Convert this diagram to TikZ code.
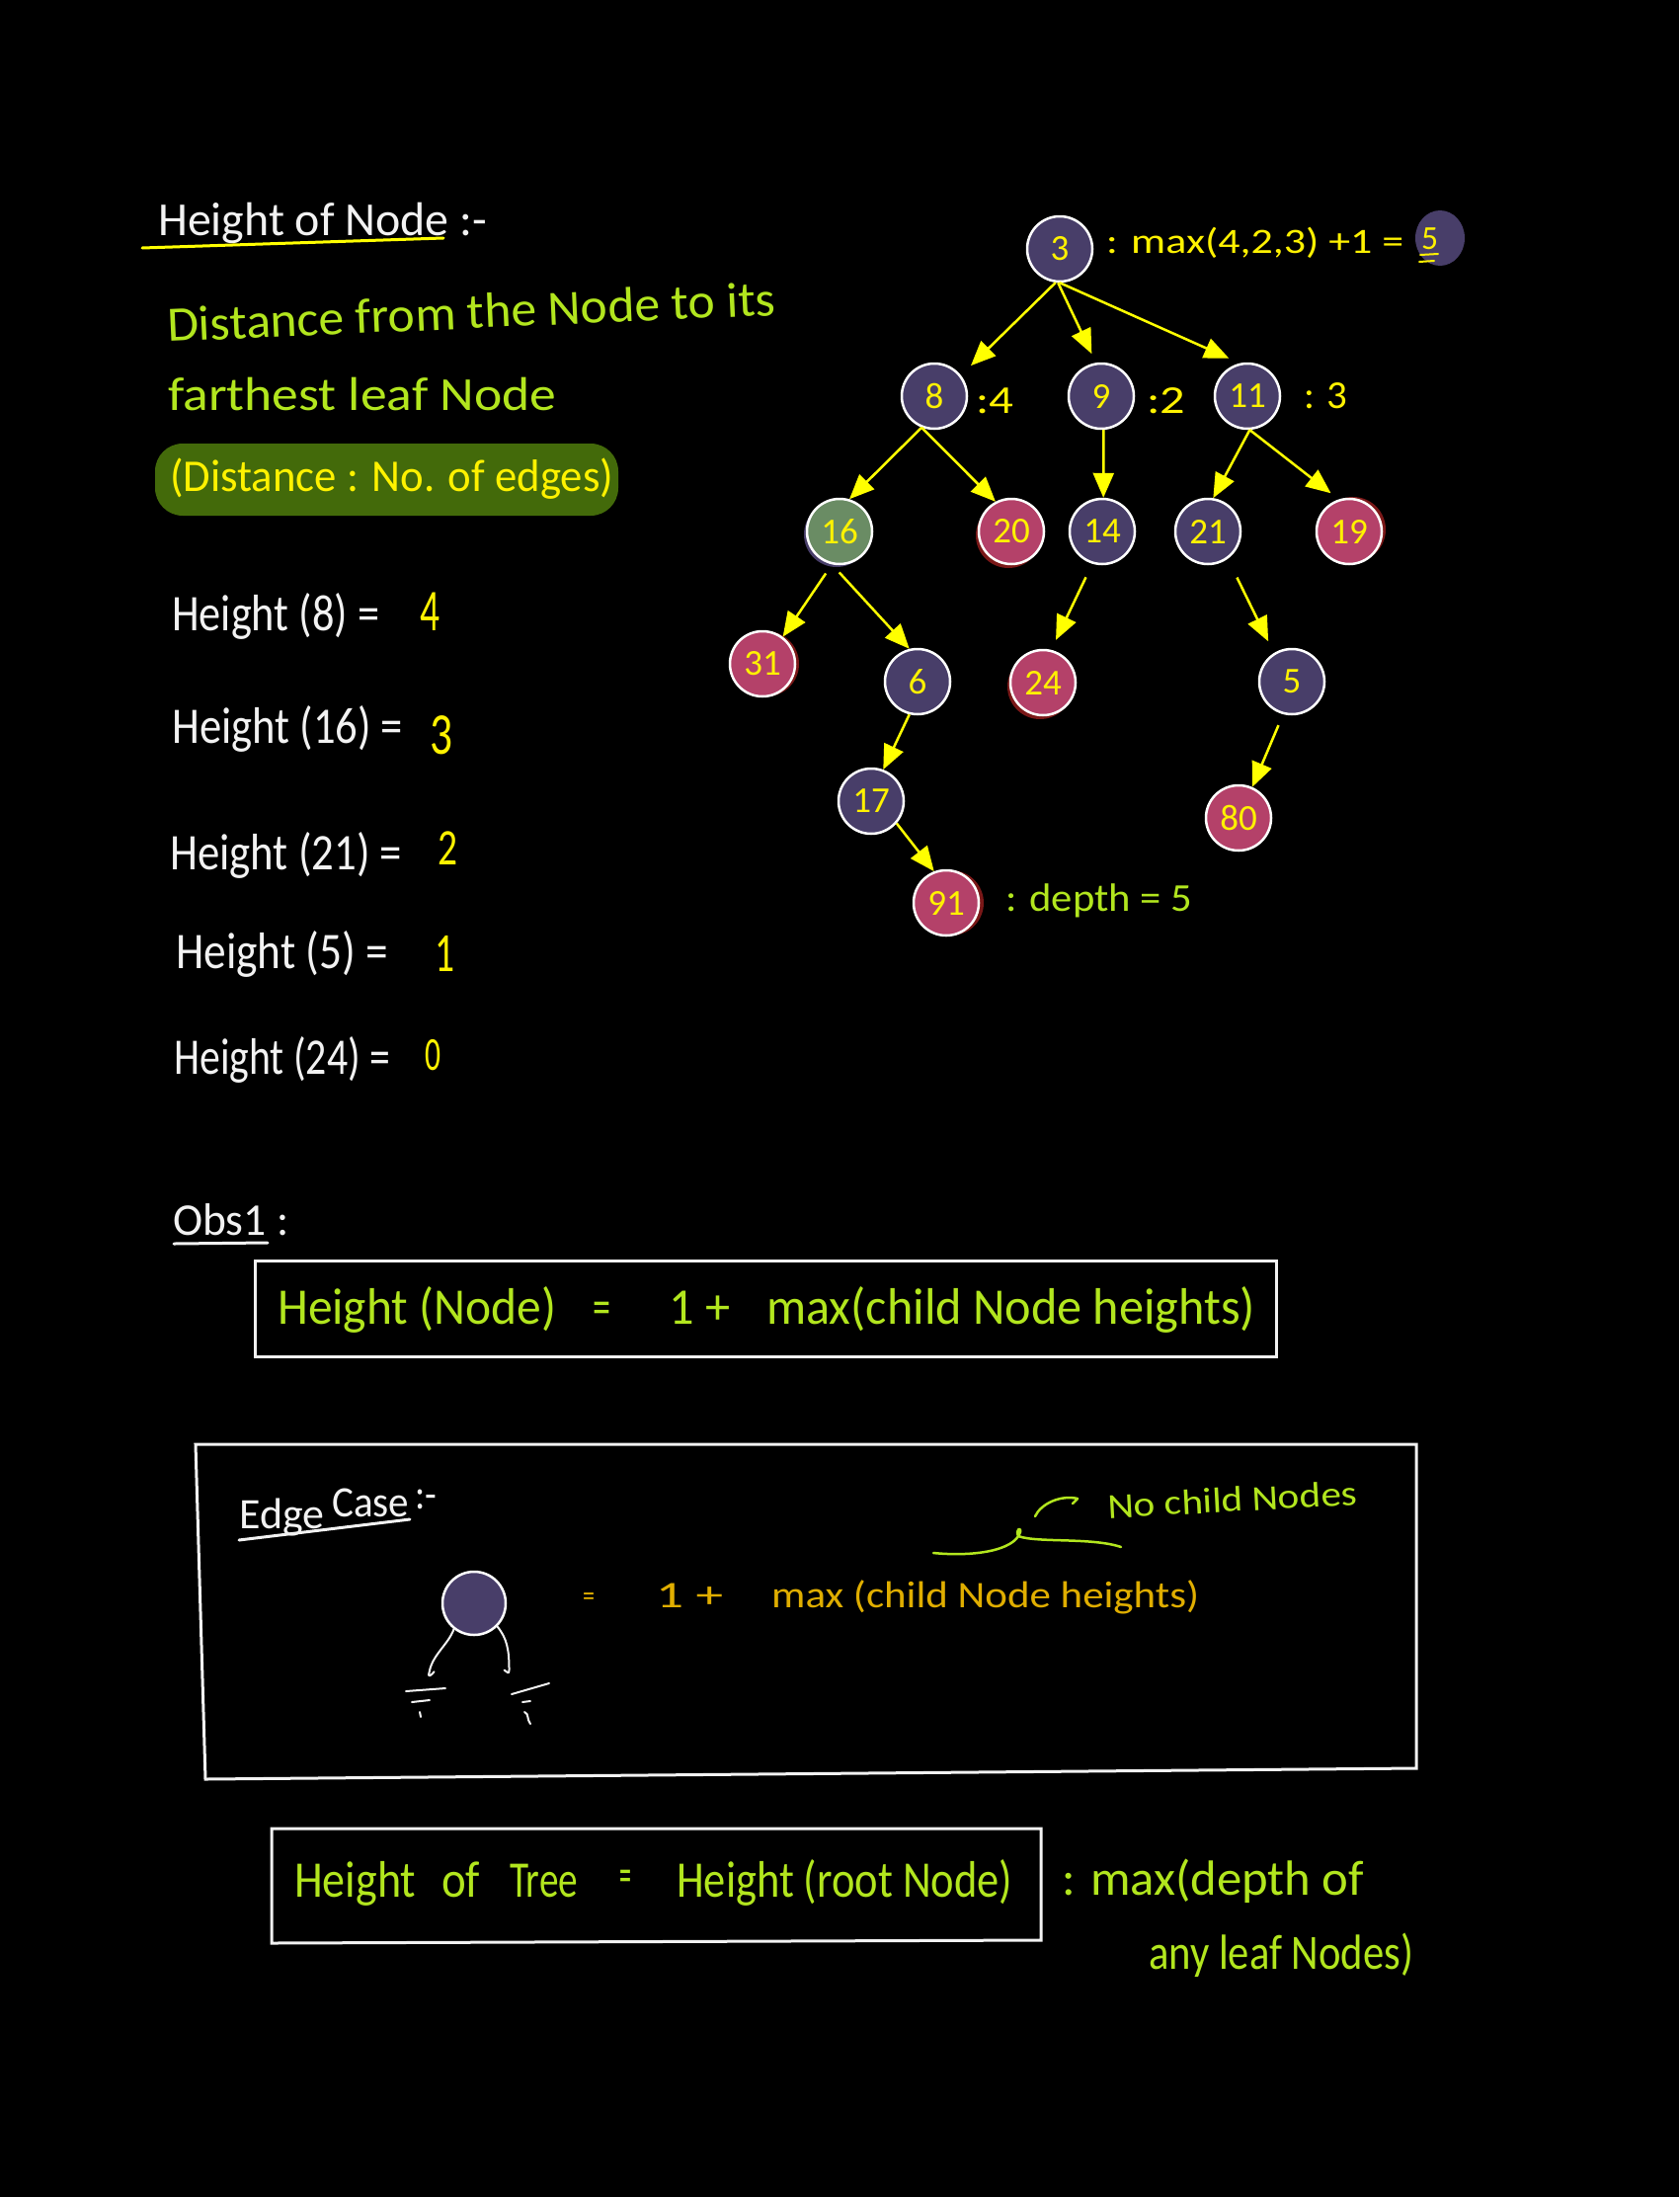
\documentclass[tikz,border=0pt]{standalone}
\usepackage{fontspec}
\usepackage{graphicx}
\usetikzlibrary{arrows.meta,calc}
\newfontfamily\hand{Carlito}
\definecolor{npurple}{HTML}{483E69}
\definecolor{npink}{HTML}{B44169}
\definecolor{ngreen}{HTML}{6A8C64}
\definecolor{hyellow}{HTML}{FFF200}
\definecolor{ayellow}{HTML}{FFFF00}
\definecolor{lime}{HTML}{B2E61E}
\definecolor{hlgreen}{HTML}{436A0A}
\definecolor{amber}{HTML}{E0AE00}
\definecolor{shred}{HTML}{7A1818}
\definecolor{chalk}{HTML}{F2F2F2}
\newcommand\fitw[2]{\resizebox{#1pt}{\height}{#2}}
\begin{document}
\begin{tikzpicture}[x=1pt,y=-1pt,
  tnode/.style={circle, draw=white, line width=2.5pt, minimum size=66pt, inner sep=0pt,
    text=hyellow, font=\hand\fontsize{37}{37}\selectfont},
  pur/.style={tnode, fill=npurple},
  pnk/.style={tnode, fill=npink},
  grn/.style={tnode, fill=ngreen},
  arr/.style={draw=ayellow, line width=2.5pt, -{Triangle[length=25pt,width=21pt]}},
  txt/.style={anchor=base west, inner sep=0pt, font=\hand\fontsize{#1}{#1}\selectfont},
  txt/.default=48,
  pen/.style={line width=2.5pt, line cap=round, line join=round}
]
\fill[black] (0,0) rectangle (1700,2224);
\useasboundingbox (0,0) rectangle (1700,2224);

% ---------- left column ----------
\node[txt=48, text=chalk] (title) at (160,238) {\fitw{333}{Height of Node :-}};
\draw[pen, ayellow, line width=3pt] (144,251) -- (449,241);

\node[txt=50, text=lime, rotate=2.5] (def1) at (170,346) {\fitw{616}{Distance from the Node to its}};
\node[txt=48, text=lime] (def2) at (170,415) {\fitw{393}{farthest leaf Node}};
\fill[hlgreen, rounded corners=28pt] (157,449) rectangle (626,522);
\node[txt=46, text=hyellow] (def3) at (172,497) {\fitw{449}{(Distance : No. of edges)}};

\node[txt=52, text=chalk] (h8) at (174,638) {\fitw{210}{Height (8) =}};
\node[txt=60, text=hyellow] (v8) at (425,638) {\fitw{20}{4}};
\node[txt=52, text=chalk] (h16) at (174,752) {\fitw{234}{Height (16) =}};
\node[txt=60, text=hyellow] (v16) at (435,763) {\fitw{23}{3}};
\node[txt=52, text=chalk] (h21) at (172,880) {\fitw{235}{Height (21) =}};
\node[txt=52, text=hyellow] (v21) at (443,875) {\fitw{20}{2}};
\node[txt=52, text=chalk] (h5) at (178,980) {\fitw{215}{Height (5) =}};
\node[txt=56, text=hyellow] (v5) at (440,983) {\fitw{20}{1}};
\node[txt=52, text=chalk] (h24) at (176,1087) {\fitw{219}{Height (24) =}};
\node[txt=48, text=hyellow] (v24) at (430,1083) {\fitw{16}{0}};

% ---------- tree ----------
\fill[npurple] (1458,241) ellipse (25 and 28);
\node[txt=36, text=hyellow] (l3) at (1120,256) {\fitw{301}{: max(4,2,3) +1 =}};
\node[txt=34, text=hyellow] (l3v) at (1439,252) {\fitw{17}{5}};
\draw[pen, hyellow, line width=2pt] (1438,258) -- (1456,257);
\draw[pen, hyellow, line width=2pt] (1437,265) -- (1452,264);
\node[txt=40, text=hyellow] (l8) at (988,418) {\fitw{38}{:4}};
\node[txt=40, text=hyellow] (l9) at (1161,418) {\fitw{39}{:2}};
\node[txt=40, text=hyellow] (l11) at (1320,413) {\fitw{44}{: 3}};
\node[txt=40, text=lime] (l91) at (1018,922) {\fitw{189}{: depth = 5}};

% shadows
\fill[shred] (1021,542) circle (33);
\fill[shred] (1370,536) circle (33);
\fill[shred] (776,672) circle (33);
\fill[shred] (1053,695) circle (33);
\fill[shred] (963,914) circle (33);
\fill[npurple] (847,541) circle (33);

\node[pur] (n3) at (1073,252) {3};
\node[pur] (n8) at (946,401) {8};
\node[pur] (n9) at (1115,401) {9};
\node[pur] (n11) at (1263,401) {11};
\node[grn] (n16) at (850,538) {16};
\node[pnk] (n20) at (1024,538) {20};
\node[pur] (n14) at (1116,538) {14};
\node[pur] (n21) at (1223,538) {21};
\node[pnk] (n19) at (1366,538) {19};
\node[pnk] (n31) at (772,672) {31};
\node[pur] (n6) at (929,690) {6};
\node[pnk] (n24) at (1056,691) {24};
\node[pur] (n5) at (1308,690) {5};
\node[pur] (n17) at (882,811) {17};
\node[pnk] (n80) at (1254,828) {80};
\node[pnk] (n91) at (958,914) {91};

\draw[arr, shorten >=14pt] (n3.-97) -- (n8.38);
\draw[arr, shorten >=10pt] (n3.-93) -- (n9.99);
\draw[arr, shorten >=12pt] (n3.-90) -- (n11.103);
\draw[arr] (n8.-112) -- (n16.73);
\draw[arr] (n8.-112) -- (n20.118);
\draw[arr] (n9.-86) -- (n14.88);
\draw[arr] (n11.-86) -- (n21.81);
\draw[arr, shorten >=10pt] (n11.-86) -- (n19.108);
\draw[arr, shorten <=11pt] (n16.-103) -- (n31.53);
\draw[arr, shorten <=11pt] (n16.-103) -- (n6.104);
\draw[arr, shorten <=15pt, shorten >=11pt] (n14.-107) -- (n24.76);
\draw[arr, shorten <=21pt, shorten >=13pt] (n21.-54) -- (n5.122);
\draw[arr] (n6.-104) -- (n17.69);
\draw[arr, shorten <=12pt] (n5.-105) -- (n80.66);
\draw[arr] (n17.-41) -- (n91.111);

% ---------- Obs1 ----------
\node[txt=46, text=chalk] (obs) at (175,1250) {\fitw{117}{Obs1 :}};
\draw[pen, chalk, line width=3pt] (176,1259) -- (271,1258);
\draw[chalk, line width=3pt] (258,1276) rectangle (1292,1373);
\node[txt=52, text=lime] (b1a) at (281,1340) {\fitw{282}{Height (Node)}};
\node[txt=52, text=lime] (b1b) at (600,1340) {\fitw{18}{=}};
\node[txt=52, text=lime] (b1c) at (677,1340) {\fitw{62}{1 +}};
\node[txt=52, text=lime] (b1d) at (776,1340) {\fitw{495}{max(child Node heights)}};

% ---------- Edge case ----------
\draw[chalk, line width=3pt] (198,1462) -- (1434,1462) -- (1434,1790) -- (208,1801) -- cycle;
\node[txt=44, text=chalk] (ec1) at (242,1547) {\fitw{86}{Edge}};
\node[txt=44, text=chalk] (ec2) at (336,1535) {\fitw{78}{Case}};
\node[txt=44, text=chalk] (ec3) at (420,1527) {\fitw{22}{:-}};
\draw[pen, chalk, line width=3pt] (242,1559) -- (415,1538);
\node[pur, minimum size=64pt] (en) at (480,1623) {};
\draw[pen, chalk, line width=2pt] (en.-128) .. controls +(-6,16) and +(3,-18) .. ++(-25,44)
   .. controls +(-2,6) and +(-2,3) .. ++(5,-1);
\draw[pen, chalk, line width=2pt] (en.-45) .. controls +(10,12) and +(0,-20) .. ++(12,44)
   .. controls +(0,5) and +(3,2) .. ++(-5,0);
\draw[pen, chalk, line width=2pt] (411,1712) -- (451,1709);
\draw[pen, chalk, line width=2pt] (417,1723) -- (435,1721);
\draw[pen, chalk, line width=2pt] (425,1733) -- (426,1738);
\draw[pen, chalk, line width=2pt] (518,1715) -- (556,1704);
\draw[pen, chalk, line width=2pt] (529,1723) -- (537,1722);
\draw[pen, chalk, line width=2pt] (531,1733) .. controls (536,1735) and (533,1740) .. (537,1745);

\node[txt=30, text=amber] (e1) at (590,1625) {\fitw{12}{=}};
\node[txt=38, text=amber] (e2) at (664,1627) {\fitw{68}{1 +}};
\node[txt=38, text=amber] (e3) at (781,1627) {\fitw{433}{max (child Node heights)}};
\node[txt=36, text=lime, rotate=3] (nc) at (1122,1537) {\fitw{253}{No child Nodes}};
\draw[pen, lime, line width=2.5pt] (945,1572) .. controls (985,1576) and (1027,1570) .. (1033,1551)
   .. controls (1034,1545) and (1028,1548) .. (1031,1555)
   .. controls (1050,1562) and (1105,1556) .. (1135,1566);
\draw[pen, lime, line width=2.5pt] (1048,1535) .. controls (1054,1522) and (1074,1513) .. (1091,1517)
   -- (1086,1522);

% ---------- Height of tree ----------
\draw[chalk, line width=3pt] (275,1851) -- (1054,1851) -- (1054,1964) -- (275,1967) -- cycle;
\node[txt=52, text=lime] (t1) at (298,1920) {\fitw{123}{Height}};
\node[txt=52, text=lime] (t2) at (447,1920) {\fitw{39}{of}};
\node[txt=52, text=lime] (t3) at (516,1920) {\fitw{69}{Tree}};
\node[txt=52, text=lime] (t4) at (627,1915) {\fitw{12}{=}};
\node[txt=52, text=lime] (t5) at (685,1920) {\fitw{340}{Height (root Node)}};
\node[txt=50, text=lime] (t6) at (1075,1918) {\fitw{306}{: max(depth of}};
\node[txt=50, text=lime] (t7) at (1163,1993) {\fitw{268}{any leaf Nodes)}};
\end{tikzpicture}
\end{document}
